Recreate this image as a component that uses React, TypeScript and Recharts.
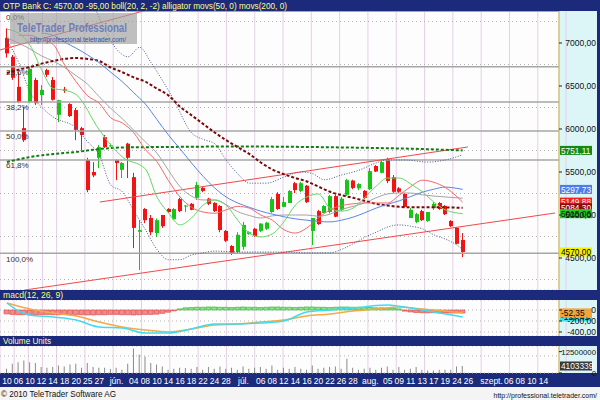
import React from 'react';
import { ComposedChart, Bar, Line, XAxis, YAxis, CartesianGrid, ReferenceLine, Cell } from 'recharts';

const NAVY = '#1b2a7a';
const CYAN = '#dcf6f8';
const FONT = '"Liberation Sans", Arial, sans-serif';
const UP = '#18c418';
const DOWN = '#f01414';

// ---------------- data ----------------
const candleOpen = [7060,6840,6490,6010,6315,6570,6395,6685,6570,6165, 6460,6290,6220,6010,5640,5500,5665,5905,5805,5640, 5525,5830,5440,4805,5070,4965,4790,5000,5070,4950, 5185,5100,5130,5200,5315,5190,5140,5105,4815,4640, 4570,4630,4780,4840,4815,4840,5035,5245,5095,5140, 5370,5280,5340,4815,5045,5025,5035,5220,5060,5235, 5400,5310,5280,5300,5570,5490,5650,5440,5310,5245, 4965,4920,5045,4930,5080,5140,5105,4930,4850,4710];
const candleHigh = [7170,6860,6660,6255,6720,6595,6510,6700,6605,6340, 6490,6300,6245,6025,5665,5615,5815,5930,5830,5645, 5615,5840,5490,4940,5080,5000,4960,5000,5080,5080, 5200,5115,5140,5385,5325,5200,5150,5115,4825,4650, 4800,4920,4810,4850,4905,4920,5210,5265,5210,5290, 5385,5385,5350,4965,5060,5115,5235,5235,5210,5420, 5410,5370,5290,5545,5580,5640,5665,5465,5325,5255, 5080,5025,5060,5035,5150,5150,5115,4940,4860,4790];
const candleLow = [6830,6570,6300,5850,6300,6280,6280,6605,6330,6080, 6420,6140,5870,5755,5265,5440,5545,5780,5790,5405, 5430,5430,4615,4360,4905,4765,4745,4850,5025,4940, 5035,5035,5055,5175,5265,5115,5035,4800,4685,4535, 4545,4595,4770,4745,4800,4825,5025,5060,5090,5140, 5255,5265,5140,4650,4885,5020,5020,4975,5045,5220, 5300,5290,5185,5290,5500,5485,5370,5255,5255,5090, 4965,4905,4930,4920,5060,5060,5000,4860,4660,4510];
const candleClose = [6880,6595,6315,5870,6700,6300,6455,6630,6340,6335, 6445,6150,5990,5930,5290,5460,5790,5790,5810,5605, 5605,5665,4850,4825,4940,4800,4940,4870,5035,5070, 5045,5110,5060,5350,5280,5130,5045,4825,4700,4560, 4770,4885,4800,4755,4900,4910,5185,5070,5150,5280, 5290,5370,5150,4965,4895,5105,5220,4980,5190,5405, 5315,5360,5200,5510,5505,5615,5395,5270,5270,5095, 5060,5010,4940,5035,5130,5070,5010,4870,4665,4570];
const volume = [2500000,5400000,6300000,7300000,6300000,5800000,3500000,3100000,3500000,4400000, 3800000,5000000,5400000,3100000,5800000,3500000,3100000,3100000,2300000,3100000, 1900000,5400000,14400000,10800000,9600000,5800000,5000000,3800000,1900000,2500000, 3100000,2900000,2500000,3500000,1900000,3500000,2500000,3800000,2500000,3100000, 1900000,3800000,2500000,3100000,3500000,2500000,4400000,1900000,3100000,2500000, 3500000,2500000,1900000,4400000,2500000,3100000,3500000,3800000,2500000,8300000, 3100000,1900000,2500000,3100000,1900000,3100000,3800000,1900000,3500000,1900000, 2500000,3500000,1900000,1500000,1500000,1900000,1900000,1900000,3800000,4103339];
const macdHist = [-70,-80,-85,-85,-90,-85,-80,-80,-85,-85, -80,-80,-85,-85,-90,-90,-85,-85,-80,-80, -85,-85,-90,-85,-80,-80,-75,-60,-40,-15, 20,40,45,50,50,55,55,50,50,45, 50,55,50,50,45,50,55,55,50,50, 45,50,55,55,50,50,45,50,55,55, 50,50,45,45,40,40,35,30,20,-20, -35,-45,-50,-50,-50,-55,-55,-55,-55,-55];

// indicator lines: [slot, value]
const jaw: [number, number][] = [[6,7115],[8,7090],[10,7010],[12,6940],[14,6860],[16,6770],[18,6660],[20,6550],[22,6420],[24,6290],[26,6110],[28,5930],[30,5770],[32,5605],[34,5450],[36,5315],[38,5210],[40,5140],[42,5090],[44,5045],[46,5010],[48,4980],[50,4955],[52,4940],[54,4925],[56,4920],[58,4940],[60,4975],[62,5025],[64,5080],[66,5125],[68,5165],[70,5215],[72,5265],[74,5300],[76,5325],[78,5310],[79,5298]];
const teeth: [number, number][] = [[2,7090],[4,7090],[6,7040],[8,6985],[10,6745],[12,6550],[14,6385],[16,6300],[18,6130],[20,6070],[22,5955],[24,5760],[26,5620],[28,5400],[30,5210],[32,5090],[34,5035],[36,5020],[38,5060],[40,5100],[42,5080],[44,5000],[46,4940],[48,4830],[50,4790],[52,4850],[54,4965],[56,5060],[58,5110],[60,5130],[62,5140],[64,5140],[66,5140],[68,5230],[70,5330],[72,5405],[74,5380],[76,5320],[79,5150]];
const lips: [number, number][] = [[0,7160],[2,7115],[4,6975],[6,6690],[8,6470],[10,6450],[12,6400],[16,5990],[18,5815],[20,5675],[24,5535],[26,5210],[28,5025],[30,4885],[32,4965],[34,5115],[36,5175],[38,5115],[40,4940],[42,4790],[44,4745],[46,4780],[48,4920],[50,5115],[52,5210],[54,5245],[56,5080],[58,5045],[60,5080],[62,5200],[64,5335],[66,5430],[68,5430],[70,5360],[72,5270],[74,5150],[76,5060],[79,5015]];
const bollMid: [number, number][] = [[0,7060],[2,7000],[4,6930],[6,6850],[8,6790],[10,6715],[12,6620],[14,6520],[16,6375],[18,6240],[20,6120],[22,5985],[24,5850],[26,5720],[28,5520],[30,5330],[32,5220],[34,5175],[36,5175],[38,5120],[40,5040],[42,4995],[44,4965],[46,4990],[48,5000],[50,5000],[52,5000],[54,4985],[56,5010],[58,5065],[60,5100],[62,5140],[64,5200],[66,5245],[68,5256],[70,5255],[72,5235],[74,5220],[76,5210],[79,5195]];
const bollUpper: [number, number][] = [[15,7450],[17,7150],[19,6930],[21,6840],[23,6950],[25,6770],[27,6560],[29,6330],[32,5955],[34,5880],[36,5830],[38,5640],[40,5480],[42,5370],[45,5370],[48,5440],[51,5500],[53,5480],[55,5410],[58,5465],[61,5520],[64,5605],[66,5640],[69,5640],[73,5615],[76,5640],[79,5700]];
const bollLower: [number, number][] = [[0,7035],[2,6780],[4,6430],[6,6255],[8,6140],[12,6010],[14,5850],[16,5700],[18,5350],[20,5270],[22,5050],[24,4830],[26,4600],[28,4480],[30,4480],[32,4535],[34,4560],[36,4580],[40,4570],[44,4570],[48,4570],[52,4560],[56,4560],[58,4600],[60,4665],[62,4740],[64,4800],[66,4860],[68,4885],[70,4870],[72,4840],[74,4770],[76,4720],[78,4650],[79,4600]];
const sma50: [number, number][] = [[0,6650],[2,6690],[4,6720],[6,6760],[8,6790],[10,6815],[12,6825],[14,6815],[16,6790],[18,6715],[20,6660],[22,6600],[24,6550],[26,6470],[28,6390],[30,6260],[32,6160],[34,6060],[36,5960],[38,5870],[40,5790],[42,5710],[44,5610],[46,5530],[48,5475],[50,5430],[52,5390],[54,5330],[56,5270],[58,5230],[60,5200],[62,5165],[64,5130],[66,5110],[68,5095],[70,5090],[72,5090],[74,5090],[76,5088],[79,5084]];
const sma200: [number, number][] = [[0,5616],[4,5674],[8,5709],[12,5733],[16,5767],[20,5785],[28,5791],[40,5797],[52,5791],[64,5779],[72,5767],[79,5751]];
const macdLine: [number, number][] = [[0,127],[2,-18],[4,-91],[8,-127],[12,-182],[16,-309],[20,-327],[24,-418],[28,-418],[32,-345],[36,-255],[40,-255],[44,-236],[48,-200],[52,-36],[56,0],[60,36],[62,55],[64,80],[66,91],[68,70],[70,36],[74,-36],[79,-127]];
const signalLine: [number, number][] = [[0,127],[4,18],[8,-55],[12,-109],[16,-218],[20,-309],[24,-364],[28,-400],[32,-345],[36,-273],[40,-255],[44,-218],[48,-182],[52,-109],[56,-73],[60,-18],[64,18],[68,55],[72,18],[76,-18],[79,-52]];

// trend lines: [[slot, price], [slot, price]]
const trendLines: [number, number][][] = [
  [[-1.2, 6919], [24.3, 7384]],
  [[16.1, 5151], [79.9, 5791]],
  [[3.1, 4128], [95.0, 5023]],
];
const fibValues = [7370, 6724, 6314, 5977, 5640, 4555];
const fibLabels = ['0,0%', '23,6%', '38,2%', '50,0%', '61,8%', '100,0%'];

const priceTicks = [4500, 5000, 5500, 6000, 6500, 7000];
const priceGrid = [4250, 4500, 4750, 5000, 5250, 5500, 5750, 6000, 6250, 6500, 6750, 7000, 7250];
const macdTicks = [-400, -200, 0];
const volumeTicks = [0, 12500000];
const volumeGrid = [5000000, 10000000];

const xLabelSlots = [0,2,4,6,8,10,12,14,16,19,22,24,26,28,30,32,34,36,38,41,44,46,48,50,52,54,56,58,60,63,66,68,70,72,74,76,78,80,84,87,89,91,93];
const xLabelTexts = ['10','06','10','12','14','18','20','25','27','jún.','04','08','10','14','16','18','22','24','28','júl.','06','08','12','14','16','20','22','26','28','aug.','05','09','11','13','17','19','24','26','szept.','06','08','10','14'];
const gridSlots = [0,2,4,6,8,10,12,14,16,18,20,22,24,26,28,30,32,34,36,38,40,42,44,46,48,50,52,54,56,58,60,62,64,66,68,70,72,74,76,78,80,82,84,87,89,91,93];

// last-value tags
const priceTagValues = [5751.11, 5297.73, 5149.88, 5084.30, 5015.06, 4570.00];
const priceTagStyles = [
  { bg: '#138a13', fg: '#ffffff' },
  { bg: '#4d7de8', fg: '#ffffff' },
  { bg: '#f02020', fg: '#ffffff' },
  { bg: '#8a0c0c', fg: '#ffffff' },
  { bg: '#22cc22', fg: '#102010' },
  { bg: '#f4f000', fg: '#000000' },
];
const macdTagValues = [-127.41, -52.35];
const macdTagStyles = [
  { bg: '#3ee2ef', fg: '#000000' },
  { bg: '#f3a43a', fg: '#000000' },
];
const volumeTagValue = 4103339;

// layout
const X_DOMAIN: [number, number] = [-1.2, 95.7];
const PRICE_DOMAIN: [number, number] = [4128, 7372];
const MACD_DOMAIN: [number, number] = [-473, 182];
const VOL_DOMAIN: [number, number] = [0, 15800000];

// ---------------- rows ----------------
const rows: any[] = candleOpen.map((o, i) => ({
  slot: i,
  open: o,
  high: candleHigh[i],
  low: candleLow[i],
  close: candleClose[i],
  range: [candleLow[i], candleHigh[i]],
  volume: volume[i],
  hist: macdHist[i],
}));
function addSeries(key: string, pairs: [number, number][]) {
  pairs.forEach(([s, v]) => { if (rows[s]) rows[s][key] = v; });
}
addSeries('jaw', jaw);
addSeries('teeth', teeth);
addSeries('lips', lips);
addSeries('bollMid', bollMid);
addSeries('bollUpper', bollUpper);
addSeries('bollLower', bollLower);
addSeries('sma50', sma50);
addSeries('sma200', sma200);
addSeries('macd', macdLine);
addSeries('signal', signalLine);

// ---------------- helpers ----------------
const fmt2 = (v: number) => (v === 0 ? '0' : v.toFixed(2).replace('.', ','));
const fmtInt = (v: number) => String(Math.round(v));

const AxisTick = (props: any) => {
  const { y, payload, fmt, size } = props;
  return (
    <text x={596} y={y + 3} textAnchor="end" fontSize={size || 8.5} fill="#111" fontFamily={FONT}>
      {fmt(payload.value)}
    </text>
  );
};

const DateTick = (props: any) => {
  const { x, y, payload } = props;
  const i = xLabelSlots.indexOf(payload.value);
  return (
    <text x={x} y={y + 10.5} textAnchor="middle" fontSize={8.5} fill="#ffffff" fontFamily={FONT}>
      {i >= 0 ? xLabelTexts[i] : ''}
    </text>
  );
};

const Tag = (props: any) => {
  const { viewBox, text, bg, fg } = props;
  if (!viewBox) return null;
  const x0 = viewBox.x + viewBox.width + 1;
  const yy = viewBox.y;
  return (
    <g>
      <rect x={x0} y={yy - 4.5} width={32} height={9} fill={bg} />
      <text x={x0 + 1} y={yy + 3.2} fontSize={8.3} fill={fg} fontFamily={FONT}>{text}</text>
    </g>
  );
};

const FibLabel = (props: any) => {
  const { viewBox, text } = props;
  if (!viewBox) return null;
  return (
    <text x={viewBox.x + 6} y={viewBox.y + 8.5} fontSize={8} fill="#333" fontFamily={FONT}>{text}</text>
  );
};

const Candle = (props: any) => {
  const { x, y, width, height, payload } = props;
  if (!payload || x == null) return null;
  const { open, close, high, low } = payload;
  const top = Math.min(y, y + height);
  const h = Math.abs(height);
  const k = high > low ? h / (high - low) : 0;
  const yO = top + (high - open) * k;
  const yC = top + (high - close) * k;
  const color = close >= open ? UP : DOWN;
  const rx = Math.round(x);
  const cx = rx + 1.5;
  return (
    <g>
      <line x1={cx} x2={cx} y1={top} y2={top + h} stroke={color} strokeWidth={1} />
      <rect x={rx} y={Math.min(yO, yC)} width={4} height={Math.max(1, Math.abs(yC - yO))} fill={color} />
    </g>
  );
};

const lineCommon = { dot: false, connectNulls: true, isAnimationActive: false, activeDot: false } as any;

function MainChart() {
  return (
    <ComposedChart width={597} height={279} data={rows} margin={{ top: 0, right: 0, bottom: 0, left: 0 }}>
      <XAxis dataKey="slot" type="number" domain={X_DOMAIN} hide allowDataOverflow />
      <XAxis xAxisId="g" type="number" domain={X_DOMAIN} ticks={gridSlots} hide allowDataOverflow />
      <YAxis orientation="right" width={38} domain={PRICE_DOMAIN} ticks={priceTicks} interval={0}
        allowDataOverflow tick={<AxisTick fmt={fmt2} />} tickSize={3}
        axisLine={{ stroke: '#cbb848' }} tickLine={{ stroke: '#222' }} />
      <YAxis yAxisId="g" domain={PRICE_DOMAIN} ticks={priceGrid} hide allowDataOverflow />
      <CartesianGrid horizontal={false} xAxisId="g" yAxisId="g" stroke="#e6cfe6" fill="#fdfdfd" />
      <CartesianGrid vertical={false} xAxisId="g" yAxisId="g" stroke="#b5b5b5" strokeDasharray="1 3" />
      {fibValues.map((v, i) => (
        <ReferenceLine key={'f' + i} y={v} stroke="#a6a6a6" strokeWidth={1.5} ifOverflow="hidden"
          label={<FibLabel text={fibLabels[i]} />} />
      ))}
      {trendLines.map((seg, i) => (
        <ReferenceLine key={'t' + i} segment={[{ x: seg[0][0], y: seg[0][1] }, { x: seg[1][0], y: seg[1][1] }]}
          stroke="#f24848" strokeWidth={1} ifOverflow="hidden" />
      ))}
      <Bar dataKey="range" barSize={4} shape={<Candle />} isAnimationActive={false} />
      <Line dataKey="bollUpper" stroke="#4a5a8c" strokeWidth={1} strokeDasharray="1 1.6" type="monotone" {...lineCommon} />
      <Line dataKey="bollLower" stroke="#4a5a8c" strokeWidth={1} strokeDasharray="1 1.6" type="monotone" {...lineCommon} />
      <Line dataKey="bollMid" stroke="#a4a4a4" strokeWidth={1} type="monotone" {...lineCommon} />
      <Line dataKey="sma200" stroke="#127a12" strokeWidth={2} strokeDasharray="3 2" type="monotone" {...lineCommon} />
      <Line dataKey="sma50" stroke="#7a0a0a" strokeWidth={2} strokeDasharray="3 2" type="monotone" {...lineCommon} />
      <Line dataKey="jaw" stroke="#5a86e6" strokeWidth={1} type="monotone" {...lineCommon} />
      <Line dataKey="teeth" stroke="#f06a6a" strokeWidth={1} type="monotone" {...lineCommon} />
      <Line dataKey="lips" stroke="#66d866" strokeWidth={1} type="monotone" {...lineCommon} />
      {priceTagValues.map((v, i) => (
        <ReferenceLine key={'p' + i} y={v} stroke="none" ifOverflow="visible"
          label={<Tag text={fmt2(v)} bg={priceTagStyles[i].bg} fg={priceTagStyles[i].fg} />} />
      ))}
    </ComposedChart>
  );
}

function MacdChart() {
  return (
    <ComposedChart width={597} height={36} data={rows} margin={{ top: 0, right: 0, bottom: 0, left: 0 }}>
      <XAxis dataKey="slot" type="number" domain={X_DOMAIN} hide allowDataOverflow />
      <XAxis xAxisId="g" type="number" domain={X_DOMAIN} ticks={gridSlots} hide allowDataOverflow />
      <YAxis orientation="right" width={38} domain={MACD_DOMAIN} ticks={macdTicks} interval={0}
        allowDataOverflow tick={<AxisTick fmt={fmt2} />} tickSize={3}
        axisLine={{ stroke: '#cbb848' }} tickLine={{ stroke: '#222' }} />
      <CartesianGrid horizontal={false} xAxisId="g" stroke="#e6cfe6" fill="#fdfdfd" />
      <CartesianGrid vertical={false} xAxisId="g" stroke="#b5b5b5" strokeDasharray="1 3" />
      <Bar dataKey="hist" barSize={5} isAnimationActive={false}>
        {rows.map((r, i) => (
          <Cell key={i} fill={r.hist < 0 ? '#f38a8a' : '#8ee08e'} stroke={r.hist < 0 ? '#dc4c4c' : '#3cb83c'} strokeWidth={0.7} />
        ))}
      </Bar>
      <Line dataKey="signal" stroke="#f4a848" strokeWidth={1.5} type="monotone" {...lineCommon} />
      <Line dataKey="macd" stroke="#3fdcef" strokeWidth={1.5} type="monotone" {...lineCommon} />
      {macdTagValues.map((v, i) => (
        <ReferenceLine key={'m' + i} y={v} stroke="none" ifOverflow="visible"
          label={<Tag text={fmt2(v)} bg={macdTagStyles[i].bg} fg={macdTagStyles[i].fg} />} />
      ))}
    </ComposedChart>
  );
}

function VolumeChart() {
  return (
    <ComposedChart width={597} height={41} data={rows} margin={{ top: 0, right: 0, bottom: 0, left: 0 }}>
      <XAxis dataKey="slot" type="number" domain={X_DOMAIN} ticks={xLabelSlots} interval={0} height={14}
        tickSize={0} tickMargin={0} axisLine={false} tickLine={false} tick={<DateTick />} allowDataOverflow />
      <XAxis xAxisId="g" type="number" domain={X_DOMAIN} ticks={gridSlots} hide allowDataOverflow />
      <YAxis orientation="right" width={38} domain={VOL_DOMAIN} ticks={volumeTicks} interval={0}
        allowDataOverflow tick={<AxisTick fmt={fmtInt} size={7.8} />} tickSize={3}
        axisLine={{ stroke: '#cbb848' }} tickLine={{ stroke: '#222' }} />
      <YAxis yAxisId="g" domain={VOL_DOMAIN} ticks={volumeGrid} hide allowDataOverflow />
      <CartesianGrid horizontal={false} xAxisId="g" yAxisId="g" stroke="#e6cfe6" fill="#fdfdfd" />
      <CartesianGrid vertical={false} xAxisId="g" yAxisId="g" stroke="#b5b5b5" strokeDasharray="1 3" />
      <Bar dataKey="volume" barSize={1} fill="#8a8a8a" isAnimationActive={false} />
      <ReferenceLine y={volumeTagValue} stroke="none" ifOverflow="visible"
        label={<Tag text={fmtInt(volumeTagValue)} bg="#3a3a3a" fg="#ffffff" />} />
    </ComposedChart>
  );
}

const abs = (left: number, top: number, extra: any = {}) => ({ position: 'absolute' as const, left, top, ...extra });

export default function App() {
  return (
    <div style={{ position: 'absolute', left: 0, top: 0, width: 600, height: 400, background: NAVY, overflow: 'hidden', fontFamily: FONT }}>
      <svg width={600} height={11} style={abs(0, 0)}>
        <text x={3} y={8.6} fontSize={9} fill="#ffff8a" fontFamily={FONT} textLength={284} lengthAdjust="spacingAndGlyphs">
          OTP Bank C: 4570,00 -95,00 boll(20, 2, -2) alligator movs(50, 0) movs(200, 0)
        </text>
      </svg>
      <div style={abs(559, 11, { width: 38, height: 279, background: CYAN })} />
      <div style={abs(559, 300, { width: 38, height: 36, background: CYAN })} />
      <div style={abs(559, 346, { width: 38, height: 27, background: CYAN })} />
      <div style={abs(0, 11)}><MainChart /></div>
      <svg width={220} height={50} style={abs(0, 0)}>
        <rect x={10} y={13} width={127} height={31} fill="rgba(160,160,160,0.66)" />
        <text x={17} y={32} fontSize={12.5} fontWeight="bold" fill="#6f80b8" fontFamily={FONT} textLength={110} lengthAdjust="spacingAndGlyphs">TeleTrader Professional</text>
        <text x={30} y={41.5} fontSize={7} fill="#3452a6" fontFamily={FONT} textLength={96} lengthAdjust="spacingAndGlyphs">http://professional.teletrader.com/</text>
      </svg>
      <svg width={600} height={10} style={abs(0, 290)}>
        <text x={3} y={8} fontSize={8.5} fill="#ffff6a" fontFamily={FONT} textLength={60} lengthAdjust="spacingAndGlyphs">macd(12, 26, 9)</text>
      </svg>
      <div style={abs(0, 300)}><MacdChart /></div>
      <svg width={600} height={10} style={abs(0, 336)}>
        <text x={3} y={8} fontSize={8.5} fill="#ffffb0" fontFamily={FONT} textLength={48} lengthAdjust="spacingAndGlyphs">Volume Units</text>
      </svg>
      <div style={abs(0, 346)}><VolumeChart /></div>
      <svg width={600} height={13} style={abs(0, 387)}>
        <rect x={0} y={0} width={600} height={13} fill="#f4f4f4" />
        <text x={1} y={9.5} fontSize={9} fill="#111" fontFamily={FONT} textLength={115} lengthAdjust="spacingAndGlyphs">© 2010 TeleTrader Software AG</text>
        <text x={597} y={11} fontSize={7} fill="#111" fontFamily={FONT} textAnchor="end">http://professional.teletrader.com/</text>
      </svg>
    </div>
  );
}
